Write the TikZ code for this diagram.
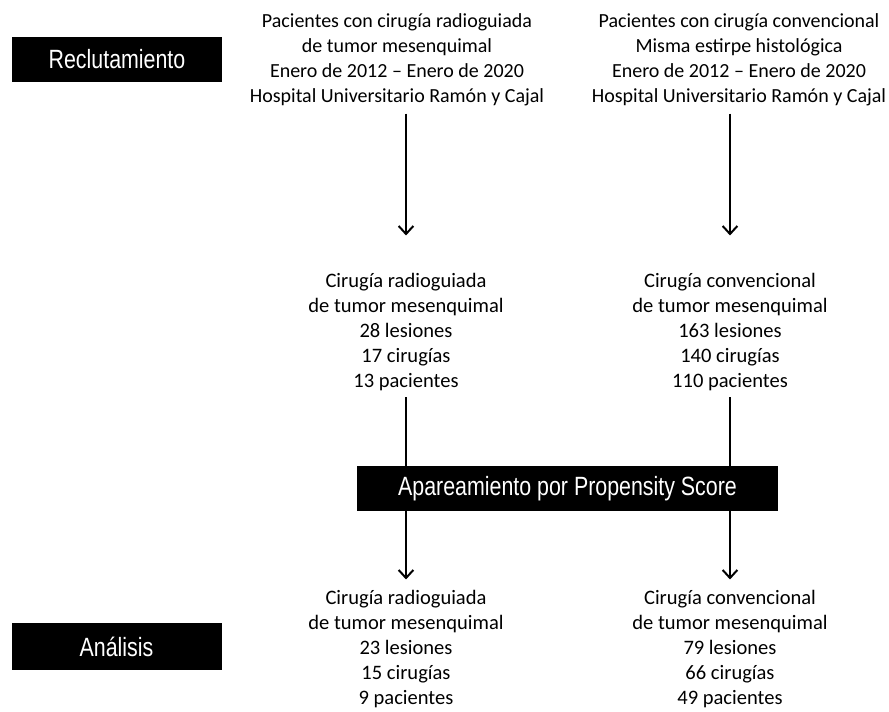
\documentclass[tikz,border=0pt]{standalone}
\usepackage{fontspec}
\setmainfont{Carlito}
\newfontfamily\etiquetafont{Liberation Sans}[FakeStretch=0.81]
\usetikzlibrary{arrows.meta}
\begin{document}
\begin{tikzpicture}[x=0.75pt, y=-0.75pt,
    texto/.style={align=center, inner sep=0pt, anchor=base,
        font=\fontsize{15.4}{18.75}\selectfont},
    origen/.style={texto, font=\fontsize{15}{18.75}\selectfont},
    etiqueta/.style={fill=black, text=white, inner sep=0pt,
        font=\etiquetafont\fontsize{19.8}{22}\selectfont},
    flecha/.style={line width=1.5pt, -{Straight Barb[length=6pt, width=11pt]}}]
    \useasboundingbox[fill=white] (0,0) rectangle (889,711);
    \node[etiqueta, minimum width=157.5pt, minimum height=34pt] (recl) at (117,59.5) {Reclutamiento};
    \node[etiqueta, minimum width=157.5pt, minimum height=35pt] (anal) at (116.5,646.5) {Análisis};
    \node[origen] (pacl) at (397,102) {Pacientes con cirugía radioguiada\\de tumor mesenquimal\\Enero de 2012 – Enero de 2020\\Hospital Universitario Ramón y Cajal};
    \node[origen] (pacr) at (739,102) {Pacientes con cirugía convencional\\Misma estirpe histológica\\Enero de 2012 – Enero de 2020\\Hospital Universitario Ramón y Cajal};
    \node[texto] (cirl) at (406,387) {Cirugía radioguiada\\de tumor mesenquimal\\28 lesiones\\17 cirugías\\13 pacientes};
    \node[texto] (cirr) at (730,387) {Cirugía convencional\\de tumor mesenquimal\\163 lesiones\\140 cirugías\\110 pacientes};
    \node[etiqueta, minimum width=315.75pt, minimum height=34pt] (apar) at (567.5,488.5) {Apareamiento por Propensity Score};
    \node[texto] (finl) at (406,704) {Cirugía radioguiada\\de tumor mesenquimal\\23 lesiones\\15 cirugías\\9 pacientes};
    \node[texto] (finr) at (730,704) {Cirugía convencional\\de tumor mesenquimal\\79 lesiones\\66 cirugías\\49 pacientes};
    \draw[flecha, shorten <=6pt, shorten >=27.75pt] (pacl.south -| cirl.north) -- (cirl.north);
    \draw[flecha, shorten <=6pt, shorten >=27.75pt] (pacr.south -| cirr.north) -- (cirr.north);
    \draw[line width=1.5pt, shorten <=5pt] (cirl.south) -- (apar.north -| cirl.south);
    \draw[line width=1.5pt, shorten <=5pt] (cirr.south) -- (apar.north -| cirr.south);
    \draw[flecha, shorten >=7.5pt] (apar.south -| finl.north) -- (finl.north);
    \draw[flecha, shorten >=7.5pt] (apar.south -| finr.north) -- (finr.north);
\end{tikzpicture}
\end{document}
